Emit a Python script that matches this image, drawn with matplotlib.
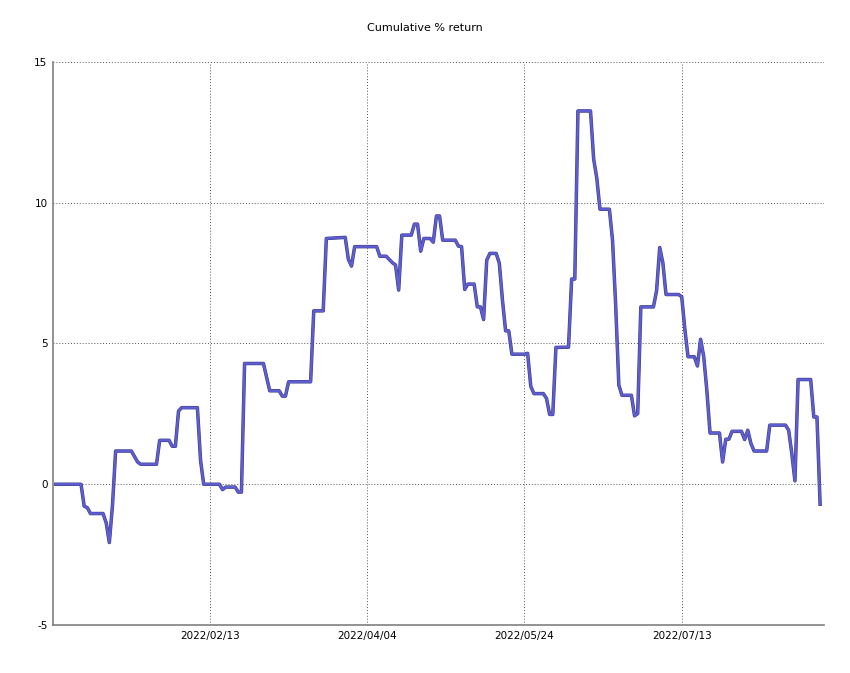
import matplotlib
matplotlib.use("Agg")
import matplotlib.pyplot as plt
import matplotlib.dates as mdates
import pandas as pd

plt.rcParams["axes.unicode_minus"] = False

# Day index (days since start) and cumulative % return at each turning point
start = "2021-12-26"
days = [0, 8, 9, 10, 11, 15, 16, 17, 18, 19, 24, 26, 27, 32, 33, 36, 37, 38, 39, 40,
        45, 46, 47, 52, 53, 54, 57, 58, 59, 60, 66, 68, 71, 72, 73, 74, 81, 82, 85, 86,
        92, 93, 94, 95, 102, 103, 105, 107, 108, 109, 110, 113, 114, 115, 116, 117, 119, 120, 121, 122,
        123, 127, 128, 129, 130, 131, 133, 134, 135, 136, 137, 138, 140, 141, 142, 143, 144, 145, 149, 150,
        151, 152, 155, 156, 157, 158, 159, 163, 164, 165, 166, 170, 171, 172, 173, 176, 177, 178, 179, 180,
        183, 184, 185, 186, 190, 191, 192, 193, 194, 198, 199, 200, 201, 203, 204, 205, 206, 207, 208, 211,
        212, 213, 214, 215, 218, 219, 220, 221, 222, 226, 227, 232, 233, 234, 235, 236, 240, 241, 242, 243]
returns = [0.0, 0.0, -0.78, -0.83, -1.04, -1.04, -1.37, -2.07, -0.75, 1.18, 1.18, 0.79, 0.71, 0.71, 1.56, 1.56, 1.35, 1.35, 2.6, 2.72,
           2.72, 0.85, 0.0, 0.0, -0.19, -0.1, -0.1, -0.28, -0.28, 4.29, 4.29, 3.32, 3.32, 3.13, 3.13, 3.64, 3.64, 6.16, 6.16, 8.73,
           8.77, 7.99, 7.75, 8.44, 8.44, 8.1, 8.1, 7.87, 7.79, 6.9, 8.85, 8.85, 9.24, 9.24, 8.28, 8.73, 8.73, 8.6, 9.53, 9.53,
           8.67, 8.67, 8.46, 8.44, 6.92, 7.11, 7.11, 6.3, 6.3, 5.85, 7.96, 8.2, 8.2, 7.85, 6.54, 5.45, 5.45, 4.62, 4.62, 4.65,
           3.48, 3.22, 3.22, 3.05, 2.48, 2.48, 4.86, 4.87, 7.29, 7.29, 13.26, 13.26, 11.55, 10.87, 9.77, 9.77, 8.67, 6.36, 3.52, 3.16,
           3.16, 2.43, 2.51, 6.3, 6.3, 6.87, 8.41, 7.87, 6.74, 6.74, 6.66, 5.5, 4.53, 4.53, 4.2, 5.15, 4.53, 3.32, 1.82, 1.82,
           0.79, 1.6, 1.6, 1.88, 1.88, 1.59, 1.92, 1.45, 1.18, 1.18, 2.1, 2.1, 1.92, 1.09, 0.12, 3.72, 3.72, 2.39, 2.39, -0.71]
tick_dates = ["2022-02-13", "2022-04-04", "2022-05-24", "2022-07-13"]

dates = pd.Timestamp(start) + pd.to_timedelta(days, unit="D")

fig = plt.figure(figsize=(8.5, 6.73), dpi=100)
ax = fig.add_axes([0.0624, 0.0713, 0.9065, 0.8366])

# dark rim under a blue line, like the original renderer
ax.plot(dates, returns, color="#3c3c88", linewidth=2.5, zorder=3)
ax.plot(dates, returns, color="#5e5ed2", linewidth=1.7, zorder=4)

x0 = mdates.date2num(pd.Timestamp(start))
ax.set_xlim(x0 - 0.9, x0 + 244.1)
ax.set_ylim(-5, 15)
ax.set_yticks([-5, 0, 5, 10, 15])
ax.set_xticks(pd.to_datetime(tick_dates))
ax.xaxis.set_major_formatter(mdates.DateFormatter("%Y/%m/%d"))

ax.grid(True, color="#555555", linestyle=(0, (1, 2)), linewidth=0.7)
ax.set_axisbelow(True)
for s in ["top", "right"]:
    ax.spines[s].set_visible(False)
for s in ["left", "bottom"]:
    ax.spines[s].set_color("#808080")
    ax.spines[s].set_linewidth(1.2)
ax.tick_params(length=0, labelsize=7.5, pad=4)

fig.suptitle("Cumulative % return", fontsize=8, y=0.966)

fig.savefig("out.png", dpi=100)
